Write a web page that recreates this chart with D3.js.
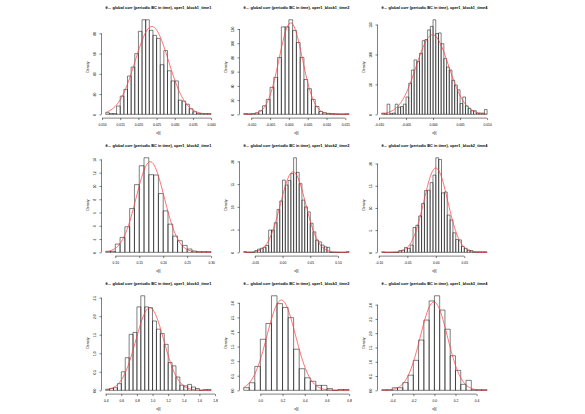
<!DOCTYPE html>
<html><head><meta charset="utf-8">
<script src="https://cdn.jsdelivr.net/npm/d3@7"></script>
<style>
body{margin:0;background:#fff}
svg{display:block;background:#fff}
text{font-family:"Liberation Sans",Arial,Helvetica,sans-serif;fill:#000}
</style>
</head><body>
<svg id="c" width="585" height="414"></svg>
<script>
// ---------- data ----------
const titles = [
  "θ↔ global corr (periodic BC in time), oper1_block1_time1",
  "θ↔ global corr (periodic BC in time), oper1_block1_time2",
  "θ↔ global corr (periodic BC in time), oper1_block1_time4",
  "θ↔ global corr (periodic BC in time), oper1_block2_time1",
  "θ↔ global corr (periodic BC in time), oper1_block2_time2",
  "θ↔ global corr (periodic BC in time), oper1_block2_time4",
  "θ↔ global corr (periodic BC in time), oper1_block3_time1",
  "θ↔ global corr (periodic BC in time), oper1_block3_time2",
  "θ↔ global corr (periodic BC in time), oper1_block3_time4"
];
const xLabel = "x[i]";
const yLabel = "Density";

// first break and bin width of each histogram
const binStart = [0.011, -0.012, -0.0095, 0.08, -0.07, -0.095, 0.40, -0.15, -0.50];
const binWidth = [0.001, 0.001, 0.0005, 0.01, 0.005, 0.005, 0.05, 0.05, 0.05];

// bar densities
const densB1T1 = [1.6,0.7,0.7,8.2,18,24.7,37.8,46.7,59.9,82,93.4,93.4,83,78,75,49,63,43,33,33,14,13,10,5.5,2.5,1.0,0.7,0.7,0.7];
const densB1T2 = [1,0.5,1,2,5,12,21,38,52,80,123,123,133,118,101,80,49,36,21,11,4,2.3,1.4,1.0,0.7,0.5,0.5,0.8];
const densB1T4 = [2,1,17,1,2,17,12,13,17,29,52,74,91,88,102,123,125,141,147,158,135,136,118,93,79,74,57,49,41,18,29,14,10,6,6,2,2,2,8];
const densB2T1 = [0.15,0.15,1.25,2.25,3.85,6.6,10.2,13.05,14.25,11.7,11.65,8.85,6.25,4.25,2.45,1.75,1.05,0.5,0.2,0.1,0.1,0.1];
const densB2T2 = [0.15,0,0,0,0.4,0.7,0.9,1.1,1.5,4.9,4.9,6.5,9.4,11.3,15.9,14.8,15.8,17.3,20.8,17.6,15.1,11.5,10.0,8.9,6.4,4.5,2.7,2.3,1.6,1.2,1.1,0,0,0,0,0,0,0.15];
const densB2T4 = [0.1,0,0,0,0,0,0.4,0.5,1.1,0.9,1.65,5.6,6.1,8.2,11,13.9,14,15.7,17.4,21.3,20.9,13.4,13.6,8.4,7.3,4.4,2.9,2.8,1.3,0.9,0.5,0.4,0.1,0.1,0.1,0.1,0.1];
const densB3T1 = [0.03,0.05,0.07,0.18,0.5,0.88,1.51,1.56,2.25,2.55,2.25,2.23,1.87,1.65,1.53,1.24,0.75,0.66,0.36,0.14,0.12,0.16,0.09,0.05,0,0.02,0.02];
const densB3T2 = [0.09,0.26,0.82,1.75,2.29,3.24,2.97,2.84,2.49,1.41,0.74,0.43,0.31,0.17,0.17,0.06,0,0.03,0.03];
const densB3T4 = [0.02,0.02,0.09,0.09,0.27,0.53,1.05,1.76,2.46,3.13,3.31,2.81,2.14,1.21,0.70,0.21,0.35,0.02,0.02,0.02];
const densities = [densB1T1, densB1T2, densB1T4, densB2T1, densB2T2, densB2T4, densB3T1, densB3T2, densB3T4];

// fitted normal curve parameters (red line)
const fitMean = [0.0237, 0.0005, -0.0001, 0.173, 0.019, 0.000, 0.965, 0.189, -0.005];
const fitSd   = [0.0046, 0.0031, 0.0030, 0.0292, 0.0225, 0.021, 0.179, 0.129, 0.129];

// tick values and labels
const xTickValues = [
  [0.010,0.015,0.020,0.025,0.030,0.035,0.040],
  [-0.010,-0.005,0,0.005,0.010,0.015],
  [-0.010,-0.005,0,0.005,0.010],
  [0.10,0.15,0.20,0.25,0.30],
  [-0.05,0,0.05,0.10],
  [-0.10,-0.05,0,0.05],
  [0.4,0.6,0.8,1.0,1.2,1.4,1.6,1.8],
  [0,0.2,0.4,0.6,0.8],
  [-0.4,-0.2,0,0.2,0.4]
];
const xTickLabels = [
  ["0.010","0.015","0.020","0.025","0.030","0.035","0.040"],
  ["-0.010","-0.005","0.000","0.005","0.010","0.015"],
  ["-0.010","-0.005","0.000","0.005","0.010"],
  ["0.10","0.15","0.20","0.25","0.30"],
  ["-0.05","0.00","0.05","0.10"],
  ["-0.10","-0.05","0.00","0.05"],
  ["0.4","0.6","0.8","1.0","1.2","1.4","1.6","1.8"],
  ["0.0","0.2","0.4","0.6","0.8"],
  ["-0.4","-0.2","0.0","0.2","0.4"]
];
const yTickValues = [
  [0,20,40,60,80],
  [0,20,40,60,80,100,120],
  [0,50,100,150],
  [0,2,4,6,8,10,12,14],
  [0,5,10,15,20],
  [0,5,10,15,20],
  [0,0.5,1,1.5,2,2.5],
  [0,0.5,1,1.5,2,2.5,3],
  [0,0.5,1,1.5,2,2.5,3]
];
const yTickLabels = [
  ["0","20","40","60","80"],
  ["0","20","40","60","80","100","120"],
  ["0","50","100","150"],
  ["0","2","4","6","8","10","12","14"],
  ["0","5","10","15","20"],
  ["0","5","10","15","20"],
  ["0.0","0.5","1.0","1.5","2.0","2.5"],
  ["0.0","0.5","1.0","1.5","2.0","2.5","3.0"],
  ["0.0","0.5","1.0","1.5","2.0","2.5","3.0"]
];

// ---------- layout ----------
const W = 585, H = 414;
const dev = 414, offX = (W - dev) / 2, fig = dev / 3, ln = 3.9;
const mar = {b: 5.1*ln, l: 4.1*ln, t: 4.1*ln, r: 2.1*ln};
const axisFont = 3.3, titleFont = 3.9;

const svg = d3.select("#c");
const defs = svg.append("defs");

function dnorm(v, m, s){ return Math.exp(-0.5*((v-m)/s)**2) / (s*Math.sqrt(2*Math.PI)); }

densities.forEach((dens, i) => {
  const r = Math.floor(i/3), c = i % 3;
  const fx = offX + c*fig, fy = r*fig;
  const L = fx + mar.l, R = fx + fig - mar.r, T = fy + mar.t, B = fy + fig - mar.b;
  const b0 = binStart[i], w = binWidth[i], n = dens.length, bn = b0 + n*w, span = bn - b0;
  const x = d3.scaleLinear().domain([b0 - 0.04*span, bn + 0.04*span]).range([L, R]);
  const ymax = d3.max(dens);
  const y = d3.scaleLinear().domain([-0.04*ymax, 1.04*ymax]).range([B, T]);

  const g = svg.append("g");

  // bars
  g.append("g").selectAll("path").data(dens).join("path")
    .attr("d", (d,k) => {
      const x0 = x(b0 + k*w), x1 = x(b0 + (k+1)*w);
      return `M${x0},${y(0)}V${y(d)}H${x1}V${y(0)}Z`;
    })
    .attr("fill", "none").attr("stroke", "#000").attr("stroke-width", 0.5);

  // fitted normal curve
  const cid = "clip" + i;
  defs.append("clipPath").attr("id", cid).append("rect")
    .attr("x", L).attr("y", T).attr("width", R-L).attr("height", B-T);
  const pts = d3.range(101).map(j => b0 + span*j/100);
  const line = d3.line().x(v => x(v)).y(v => y(dnorm(v, fitMean[i], fitSd[i])));
  g.append("path").attr("d", line(pts)).attr("clip-path", `url(#${cid})`)
    .attr("fill", "none").attr("stroke", "#ff3838").attr("stroke-width", 0.7);

  // x axis
  const xt = xTickValues[i], xl = xTickLabels[i];
  const xa = g.append("g").attr("transform", `translate(0,${B})`)
    .call(d3.axisBottom(x).tickValues(xt).tickSize(2).tickFormat((d,j) => xl[j]));
  xa.select(".domain").remove();
  xa.append("line").attr("x1", x(xt[0])).attr("x2", x(xt[xt.length-1]))
    .attr("stroke", "#000").attr("stroke-width", 0.5);
  xa.selectAll(".tick line").attr("stroke", "#000").attr("stroke-width", 0.5);
  xa.selectAll(".tick text").attr("y", 8.3).attr("dy", 0)
    .attr("font-size", axisFont).attr("font-family", null).attr("fill", "#000");

  // y axis
  const yt = yTickValues[i], yl = yTickLabels[i];
  const ya = g.append("g").attr("transform", `translate(${L},0)`)
    .call(d3.axisLeft(y).tickValues(yt).tickSize(2).tickFormat((d,j) => yl[j]));
  ya.select(".domain").remove();
  ya.append("line").attr("y1", y(yt[0])).attr("y2", y(yt[yt.length-1]))
    .attr("stroke", "#000").attr("stroke-width", 0.5);
  ya.selectAll(".tick line").attr("stroke", "#000").attr("stroke-width", 0.5);
  ya.selectAll(".tick text").attr("x", 0).attr("y", 0).attr("dy", 0)
    .attr("transform", "translate(-5.3,0) rotate(-90)")
    .attr("text-anchor", "middle")
    .attr("font-size", axisFont).attr("font-family", null).attr("fill", "#000");

  // axis titles
  g.append("text").attr("x", (L+R)/2).attr("y", B + 16.2)
    .attr("text-anchor", "middle").attr("font-size", axisFont).text(xLabel);
  g.append("text").attr("transform", `translate(${L-12},${(T+B)/2}) rotate(-90)`)
    .attr("text-anchor", "middle").attr("font-size", axisFont).text(yLabel);

  // main title
  g.append("text").attr("x", (L+R)/2).attr("y", fy + 9.2)
    .attr("text-anchor", "middle").attr("font-size", titleFont)
    .attr("font-weight", "bold").text(titles[i]);
});
</script>
</body></html>
